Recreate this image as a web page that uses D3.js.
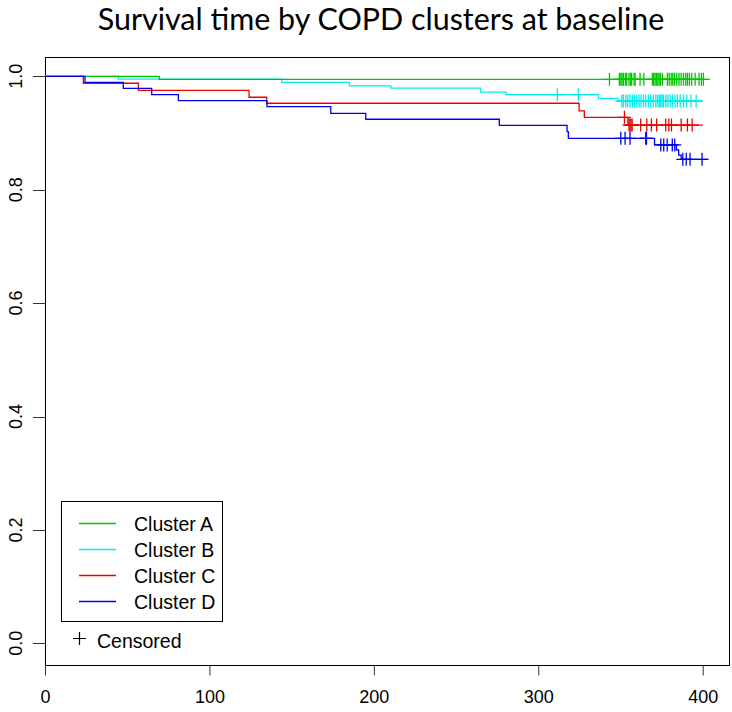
<!DOCTYPE html>
<html><head><meta charset="utf-8">
<script src="https://cdn.jsdelivr.net/npm/d3@7"></script>
<style>body{margin:0;background:#fff}</style>
</head><body>
<svg id="chart" width="732" height="712"></svg>
<script>
// ---------------- data ----------------
const chartTitle = "Survival time by COPD clusters at baseline";
const clusterNames = ["Cluster A", "Cluster B", "Cluster C", "Cluster D"];
const clusterColors = ["#00C800", "#00EEEE", "#EE0000", "#0000EE"];
const xTickValues = [0, 100, 200, 300, 400];
const yTickValues = [0, 0.2, 0.4, 0.6, 0.8, 1.0];
const yTickLabels = ["0.0", "0.2", "0.4", "0.6", "0.8", "1.0"];
const censoredLabel = "Censored";

// Cluster A
const timesA = [0, 69.5];
const survA = [1, 0.9947];
const censorA = [343.3, 349.3, 350.2, 351.0, 351.8, 353.0, 353.8, 355.2, 356.2, 356.8, 358.3, 358.9,
  361.9, 364.2, 369.4, 370.2, 371.0, 371.8, 372.7, 373.5, 374.3, 375.5, 378.5, 379.6, 380.8,
  381.8, 382.8, 384.2, 385.6, 386.9, 388.3, 389.7, 390.7, 391.9, 393.3, 395.4, 397.8, 399.2, 400.4];
const endA = 400.4;

// Cluster B
const timesB = [0, 44.6, 144.0, 185.1, 210.3, 265.0, 280.4, 336.6, 348.8];
const survB = [1, 0.995, 0.9894, 0.983, 0.979, 0.972, 0.9676, 0.9612, 0.9564];
const censorB = [311.6, 324.4, 350.8, 351.8, 353.2, 354.4, 355.8, 357.3, 358.5, 359.9, 361.3, 362.5,
  364.0, 365.4, 367.0, 368.4, 370.0, 371.5, 372.7, 373.7, 374.5, 375.3, 376.1, 377.6, 378.8,
  380.2, 381.6, 383.2, 384.6, 386.3, 388.3, 390.3, 392.9, 396.0];
const endB = 400;

// Cluster C
const timesC = [0, 23.3, 56.8, 124.1, 134.8, 324.8, 328.0, 354.5];
const survC = [1, 0.9877, 0.9753, 0.963, 0.9524, 0.939, 0.9277, 0.914];
const censorC = [352.4, 355.2, 355.8, 356.4, 357.1, 362.3, 366.0, 368.8, 372.0, 377.5, 379.4,
  381.0, 386.9, 390.7, 393.6];
const endC = 400;

// Cluster D
const timesD = [0, 24.3, 47.6, 64.9, 81.1, 135.0, 173.8, 195.1, 276.3, 317.5, 318.3, 370.7, 384.0, 385.4, 386.9];
const survD = [1, 0.9894, 0.9788, 0.9676, 0.957, 0.9464, 0.9347, 0.9242, 0.9135, 0.9023, 0.8906, 0.8789, 0.870, 0.861, 0.8536];
const censorD = [350.2, 352.8, 355.8, 365.4, 365.8, 374.5, 376.3, 378.4, 381.5, 383.0, 387.9, 390.0, 392.3, 399.6];
const endD = 403;

// ---------------- chart ----------------
const svg = d3.select("#chart");
const font = "'Liberation Sans', Arial, sans-serif";

const x = d3.scaleLinear().domain([0, 416.6]).range([45, 730]);
const y = d3.scaleLinear().domain([-0.04, 1.034]).range([666, 57]);

const series = [
  {name: clusterNames[0], color: clusterColors[0], times: timesA, surv: survA, censor: censorA, end: endA},
  {name: clusterNames[1], color: clusterColors[1], times: timesB, surv: survB, censor: censorB, end: endB},
  {name: clusterNames[2], color: clusterColors[2], times: timesC, surv: survC, censor: censorC, end: endC},
  {name: clusterNames[3], color: clusterColors[3], times: timesD, surv: survD, censor: censorD, end: endD}
];

// title
const t = svg.append("text")
  .attr("x", 381).attr("y", 30)
  .attr("text-anchor", "middle")
  .style("font-family", "Lato, 'Open Sans', sans-serif")
  .style("font-size", "26px")
  .attr("fill", "#000")
  .text(chartTitle);
const len = t.node().getComputedTextLength();
t.style("font-size", (26 * 567 / len) + "px");

// box
svg.append("rect").attr("x", 45.5).attr("y", 57.5).attr("width", 684).attr("height", 608)
  .attr("fill", "none").attr("stroke", "#000").attr("stroke-width", 1);

// x axis (axis line coincides with the box)
const xAxis = d3.axisBottom(x).tickValues(xTickValues).tickSize(10).tickPadding(11).tickFormat(d3.format("d"));
const gx = svg.append("g").attr("transform", "translate(0,665.5)").call(xAxis);
gx.select(".domain").remove();
gx.selectAll(".tick line").attr("stroke", "#333");
gx.selectAll(".tick text").style("font-family", font).style("font-size", "18px").attr("fill", "#000").attr("dy", "0.9em");

// y axis
const gy = svg.append("g").attr("transform", "translate(45,0)");
yTickValues.forEach((v, i) => {
  gy.append("line").attr("x1", -12).attr("x2", 0).attr("y1", Math.round(y(v)) + 0.5).attr("y2", Math.round(y(v)) + 0.5)
    .attr("stroke", "#333");
  gy.append("text")
    .attr("transform", `translate(-23,${y(v)}) rotate(-90)`)
    .attr("text-anchor", "middle")
    .style("font-family", font).style("font-size", "18px").attr("fill", "#000")
    .text(yTickLabels[i]);
});

// curves
const lineGen = d3.line().x(d => x(d[0])).y(d => y(d[1])).curve(d3.curveStepAfter);
const drawOrder = [1, 0, 2, 3];
function survAt(s, tm) {
  let v = s.surv[0];
  for (let i = 0; i < s.times.length; i++) if (s.times[i] <= tm) v = s.surv[i];
  return v;
}
drawOrder.forEach(k => {
  const s = series[k];
  const pts = s.times.map((tm, i) => [tm, s.surv[i]]);
  pts.push([s.end, s.surv[s.surv.length - 1]]);
  svg.append("path").attr("d", lineGen(pts)).attr("fill", "none")
    .attr("stroke", s.color).attr("stroke-width", 1.3);
  const g = svg.append("g");
  s.censor.forEach(c => {
    const cx = x(c), cy = y(survAt(s, c));
    g.append("path").attr("d", `M${cx},${cy - 6.5}V${cy + 6.5}M${cx - 6.5},${cy}H${cx + 6.5}`)
      .attr("stroke", s.color).attr("stroke-width", 1.3).attr("fill", "none");
  });
});

// legend
const lg = svg.append("g");
lg.append("rect").attr("x", 61.5).attr("y", 501.5).attr("width", 161).attr("height", 120)
  .attr("fill", "#fff").attr("stroke", "#000").attr("stroke-width", 1);
const legendY = [523.5, 549.5, 575.5, 601.5];
series.forEach((s, i) => {
  lg.append("path").attr("d", `M79,${legendY[i]}H116`)
    .attr("stroke", s.color).attr("stroke-width", 1.3).attr("fill", "none");
  lg.append("text").attr("x", 134).attr("y", legendY[i] + 7)
    .style("font-family", font).style("font-size", "19.5px").attr("fill", "#000")
    .text(s.name);
});
lg.append("path").attr("d", `M79.5,632V645M73,638.5H86`).attr("stroke", "#000").attr("stroke-width", 1.2);
lg.append("text").attr("x", 97).attr("y", 648)
  .style("font-family", font).style("font-size", "19.5px").attr("fill", "#000")
  .text(censoredLabel);
</script>
</body></html>
